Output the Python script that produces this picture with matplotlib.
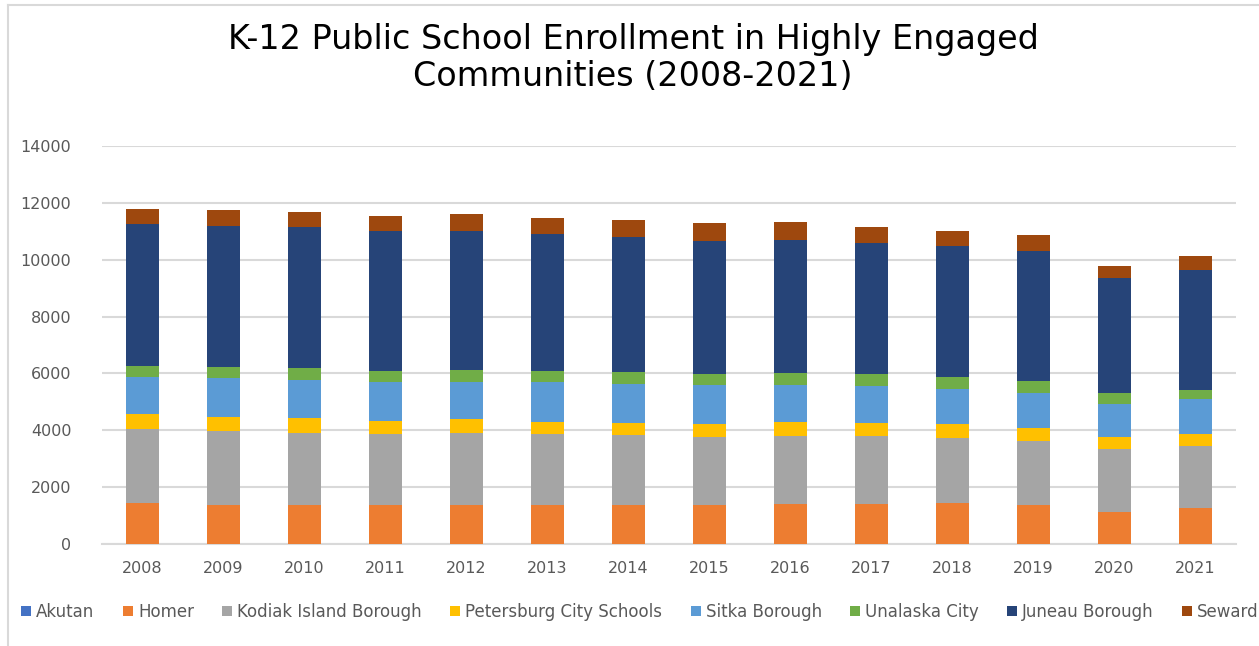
import matplotlib
matplotlib.use("Agg")
import matplotlib.pyplot as plt
from matplotlib.patches import Patch
from matplotlib.lines import Line2D
import numpy as np

plt.rcParams['font.family'] = ['DejaVu Sans']

years = ["2008", "2009", "2010", "2011", "2012", "2013", "2014",
         "2015", "2016", "2017", "2018", "2019", "2020", "2021"]

akutan = [15, 15, 15, 15, 15, 15, 15, 15, 15, 15, 15, 15, 15, 15]
homer = [1424, 1365, 1365, 1365, 1365, 1365, 1365, 1341, 1400, 1400, 1424, 1365, 1094, 1235]
kodiak = [2611, 2600, 2541, 2506, 2541, 2482, 2447, 2412, 2376, 2376, 2294, 2235, 2224, 2212]
petersburg = [506, 494, 494, 447, 470, 424, 423, 447, 495, 459, 482, 459, 435, 424]
sitka = [1330, 1353, 1353, 1364, 1306, 1411, 1377, 1388, 1317, 1294, 1247, 1247, 1153, 1200]
unalaska = [388, 388, 423, 389, 424, 400, 412, 365, 400, 424, 412, 400, 400, 329]
juneau = [4976, 4988, 4953, 4941, 4906, 4800, 4776, 4682, 4706, 4635, 4600, 4600, 4023, 4235]
seward = [541, 553, 542, 506, 588, 553, 576, 624, 624, 565, 541, 541, 447, 483]

series_names = ["Akutan", "Homer", "Kodiak Island Borough", "Petersburg City Schools",
                "Sitka Borough", "Unalaska City", "Juneau Borough", "Seward"]
series_values = [akutan, homer, kodiak, petersburg, sitka, unalaska, juneau, seward]
colors = ["#4472C4", "#ED7D31", "#A5A5A5", "#FFC000",
          "#5B9BD5", "#70AD47", "#264478", "#9E480E"]

W, H = 1259, 646
fig = plt.figure(figsize=(W / 100, H / 100), dpi=100)
fig.patch.set_facecolor("white")

# chart area border: only top and left edges fall inside the image
fig.add_artist(Line2D([7.5 / W, 1.0], [1 - 5 / H, 1 - 5 / H],
                      transform=fig.transFigure, color="#d9d9d9", linewidth=1.5))
fig.add_artist(Line2D([7.5 / W, 7.5 / W], [0.0, 1 - 5 / H],
                      transform=fig.transFigure, color="#d9d9d9", linewidth=1.5))

ax = fig.add_axes([102 / W, 1 - 544 / H, 1134 / W, (544 - 146) / H])

x = np.arange(len(years))
bottom = np.zeros(len(years))
for name, vals, col in zip(series_names, series_values, colors):
    v = np.array(vals, dtype=float)
    ax.bar(x, v, width=0.4, bottom=bottom, color=col, label=name, zorder=3)
    bottom += v

ax.set_xlim(-0.5, len(years) - 0.5)
ax.set_ylim(0, 14000)
ax.set_yticks(np.arange(0, 14001, 2000))
ax.set_xticks(x)
ax.set_xticklabels(years)
ax.yaxis.grid(True, color="#d9d9d9", linewidth=1.5, zorder=0)
ax.set_axisbelow(True)
for s in ["top", "right", "left"]:
    ax.spines[s].set_visible(False)
ax.spines["bottom"].set_color("#d9d9d9")
ax.spines["bottom"].set_linewidth(1.5)
ax.tick_params(axis="both", length=0, labelcolor="#595959", labelsize=11.5)
ax.tick_params(axis="y", pad=22)
ax.tick_params(axis="x", pad=12)

fig.text(633 / W, 1 - 58 / H,
         "K-12 Public School Enrollment in Highly Engaged\nCommunities (2008-2021)",
         ha="center", va="center", fontsize=24, color="#000000", linespacing=1.15)

handles = [Patch(facecolor=c, edgecolor="none") for c in colors]
leg = fig.legend(handles, series_names, loc="center", ncol=8,
                 bbox_to_anchor=(640 / W, 1 - 612 / H), frameon=False,
                 fontsize=12, handlelength=0.6, handleheight=0.6,
                 handletextpad=0.3, columnspacing=1.7, labelcolor="#595959")

fig.savefig("out.png", dpi=100, facecolor="white")
